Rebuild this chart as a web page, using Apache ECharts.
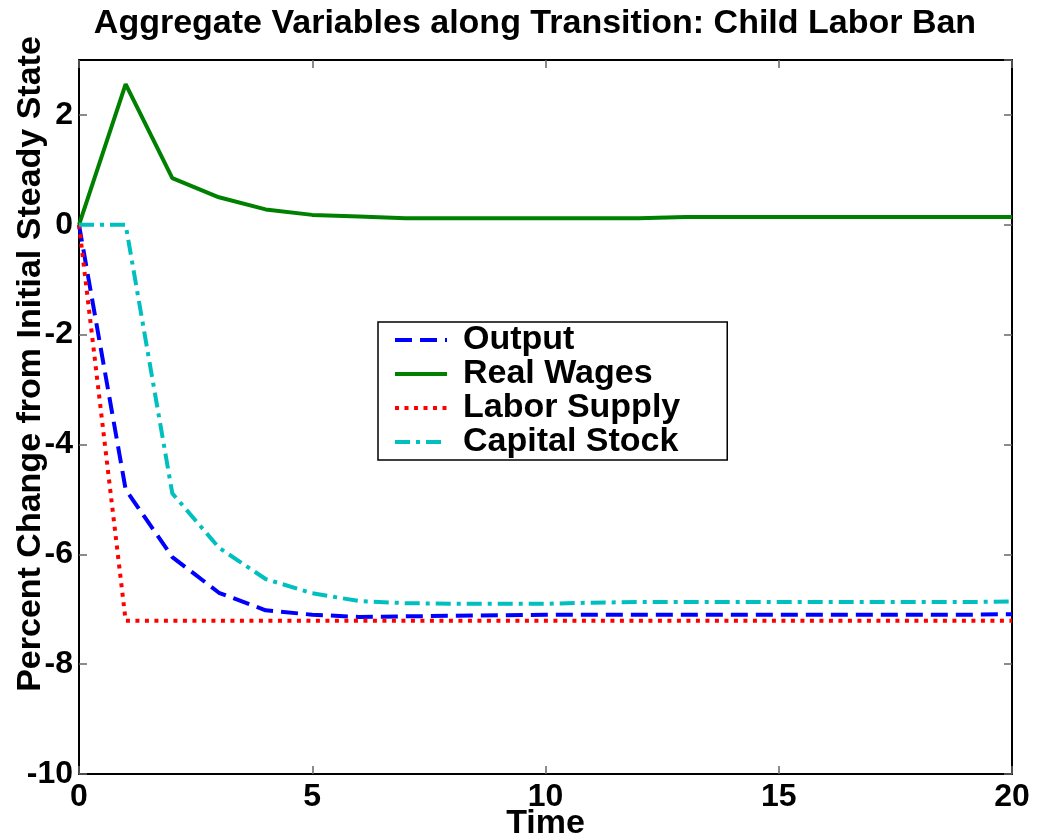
<!DOCTYPE html>
<html>
<head>
<meta charset="utf-8">
<script src="https://cdn.jsdelivr.net/npm/echarts@6/dist/echarts.min.js"></script>
<style>
  html, body { margin: 0; padding: 0; background: #fff; }
  #main { width: 1038px; height: 840px; }
</style>
</head>
<body>
<div id="main"></div>
<script>
// periods 0..20
const time = [0,1,2,3,4,5,6,7,8,9,10,11,12,13,14,15,16,17,18,19,20]
const output = [0,-4.82,-6.05,-6.7,-7.02,-7.1,-7.14,-7.13,-7.12,-7.11,-7.1,-7.1,-7.1,-7.1,-7.1,-7.1,-7.1,-7.1,-7.1,-7.1,-7.09]
const realWages = [0,2.56,0.85,0.5,0.28,0.18,0.15,0.12,0.12,0.12,0.12,0.12,0.12,0.14,0.14,0.14,0.14,0.14,0.14,0.14,0.14]
const laborSupply = [0,-7.21,-7.21,-7.21,-7.21,-7.21,-7.21,-7.21,-7.21,-7.21,-7.21,-7.21,-7.21,-7.21,-7.21,-7.21,-7.21,-7.21,-7.21,-7.21,-7.21]
const capitalStock = [0,0,-4.89,-5.88,-6.45,-6.71,-6.85,-6.89,-6.9,-6.9,-6.9,-6.88,-6.87,-6.87,-6.87,-6.87,-6.87,-6.87,-6.87,-6.87,-6.86]
const yTicks = [-10,-8,-6,-4,-2,0,2]

const pairs = arr => time.map((t, i) => [t, arr[i]])
const font = 'Liberation Sans, Arial, Helvetica, sans-serif'

let myChart = echarts.init(document.getElementById('main'))
let tickStyle = { show: true, inside: true, length: 8, lineStyle: { color: '#666', width: 1.5 } }
let frameLine = { show: true, onZero: false, lineStyle: { color: '#000', width: 2 } }
let option = {
    animation: false,
    backgroundColor: '#fff',
    title: {
        text: 'Aggregate Variables along Transition: Child Labor Ban',
        left: 530, textAlign: 'center', top: 2,
        textStyle: { fontFamily: font, fontSize: 34, fontWeight: 'bold', color: '#000' }
    },
    // y axis title sits a bit above the plot centre, as in the original
    graphic: [{
        type: 'text', x: 31, y: 364, rotation: Math.PI / 2,
        style: {
            text: 'Percent Change from Initial Steady State',
            fontFamily: font, fontSize: 34, fontWeight: 'bold', fill: '#000',
            align: 'center', verticalAlign: 'middle'
        }
    }],
    grid: { left: 79, right: 26, top: 60, bottom: 66, outerBoundsMode: 'none' },
    legend: {
        orient: 'vertical', left: 378, top: 322,
        backgroundColor: '#fff', borderColor: '#000', borderWidth: 1.5, borderRadius: 0,
        padding: [1, 47, 1, 15],
        itemWidth: 52, itemHeight: 14, itemGap: 0,
        itemStyle: { opacity: 0 },
        lineStyle: { width: 4 },
        textStyle: { fontFamily: font, fontSize: 34, fontWeight: 'bold', color: '#000', lineHeight: 34, padding: [0, 0, 0, 11] },
        data: ['Output', 'Real Wages', 'Labor Supply', 'Capital Stock']
    },
    xAxis: [{
        type: 'value', min: 0, max: 20, interval: 5,
        name: 'Time', nameLocation: 'middle', nameGap: 33, nameMoveOverlap: false,
        nameTextStyle: { fontFamily: font, fontSize: 34, fontWeight: 'bold', color: '#000' },
        axisLine: frameLine, axisTick: tickStyle, splitLine: { show: false },
        axisLabel: { fontFamily: font, fontSize: 32, fontWeight: 'bold', color: '#000', margin: 7 }
    }, {
        type: 'value', min: 0, max: 20, interval: 5, position: 'top',
        axisLine: frameLine, axisTick: tickStyle, axisLabel: { show: false }, splitLine: { show: false }
    }],
    yAxis: [{
        type: 'value', min: -10, max: 3, interval: 2,
        axisLine: frameLine, axisTick: tickStyle, splitLine: { show: false },
        axisLabel: {
            fontFamily: font, fontSize: 32, fontWeight: 'bold', color: '#000', margin: 6,
            showMaxLabel: false,
            formatter: v => yTicks.includes(v) ? String(v) : ''
        }
    }, {
        type: 'value', min: -10, max: 3, interval: 2, position: 'right',
        axisLine: frameLine, axisTick: tickStyle,
        axisLabel: { show: false }, splitLine: { show: false }
    }],
    series: [
        { name: 'Output', type: 'line', symbol: 'none', data: pairs(output),
          color: '#0000ff', lineStyle: { width: 4, type: [17, 8] } },
        { name: 'Real Wages', type: 'line', symbol: 'none', data: pairs(realWages),
          color: '#008000', lineStyle: { width: 4 } },
        { name: 'Labor Supply', type: 'line', symbol: 'none', data: pairs(laborSupply),
          color: '#ff0000', lineStyle: { width: 4, type: [4, 5.5] } },
        { name: 'Capital Stock', type: 'line', symbol: 'none', data: pairs(capitalStock),
          color: '#00bfbf', lineStyle: { width: 4, type: [15, 6, 4, 6] } }
    ]
}
myChart.setOption(option)
</script>
</body>
</html>
